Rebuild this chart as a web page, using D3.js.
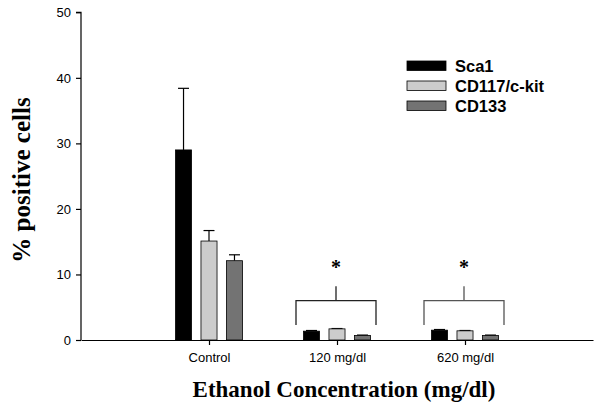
<!DOCTYPE html>
<html><head><meta charset="utf-8">
<script src="https://cdn.jsdelivr.net/npm/d3@7"></script>
<style>body{margin:0;background:#fff}svg{display:block}</style>
</head><body><svg id="c" width="600" height="408"></svg>
<script>
const categories = ["Control", "120 mg/dl", "620 mg/dl"];
const seriesNames = ["Sca1", "CD117/c-kit", "CD133"];
const sca1 = [29.0, 1.35, 1.5];
const cd117 = [15.1, 1.7, 1.4];
const cd133 = [12.1, 0.7, 0.7];
const sca1Err = [9.4, 0.1, 0.1];
const cd117Err = [1.6, 0.05, 0.05];
const cd133Err = [0.9, 0.05, 0.05];
const yTicks = [0, 10, 20, 30, 40, 50];
const sigGroups = ["120 mg/dl", "620 mg/dl"];
const colors = ["#000000", "#cccccc", "#737373"];

const svg = d3.select("#c");
const x = d3.scalePoint().domain(categories).range([81, 593]).padding(1);
const y = d3.scaleLinear().domain([0, 50]).range([340, 12.3]);
const xs = d3.scaleBand().domain(seriesNames).range([-33.5, 33.5]).paddingInner(0.37);

const vals = [sca1, cd117, cd133], errs = [sca1Err, cd117Err, cd133Err];

// axes
const ya = svg.append("g").attr("transform", "translate(81,0)")
  .call(d3.axisLeft(y).tickValues(yTicks).tickSize(5).tickPadding(5));
ya.select(".domain").attr("d", `M-5,${y(50)}H0V${y(0)}`);
ya.selectAll("text").attr("font-family", "Liberation Sans, Arial, sans-serif").attr("font-size", 13).attr("fill", "#000");
ya.selectAll("line,path").attr("stroke", "#000").attr("stroke-width", 1.2);

const xa = svg.append("g").attr("transform", "translate(0,340)")
  .call(d3.axisBottom(x).tickSize(5).tickPadding(8).tickSizeOuter(0));
xa.selectAll("text").attr("font-family", "Liberation Sans, Arial, sans-serif").attr("font-size", 13).attr("fill", "#000");
xa.selectAll("line,path").attr("stroke", "#000").attr("stroke-width", 1.2);

// bars
seriesNames.forEach((s, i) => {
  const g = svg.append("g");
  categories.forEach((c, j) => {
    const bx = x(c) + xs(s);
    const bw = xs.bandwidth();
    const cx = bx + bw / 2;
    g.append("line").attr("x1", cx).attr("x2", cx)
      .attr("y1", y(vals[i][j])).attr("y2", y(vals[i][j] + errs[i][j]))
      .attr("stroke", "#000").attr("stroke-width", 1.2);
    g.append("line").attr("x1", cx - 5.5).attr("x2", cx + 5.5)
      .attr("y1", y(vals[i][j] + errs[i][j])).attr("y2", y(vals[i][j] + errs[i][j]))
      .attr("stroke", "#000").attr("stroke-width", 1.2);
    g.append("rect").attr("x", bx).attr("width", bw)
      .attr("y", y(vals[i][j])).attr("height", y(0) - y(vals[i][j]))
      .attr("fill", colors[i]).attr("stroke", "#000").attr("stroke-width", 0.8);
  });
});

// significance brackets
const bracketColors = ["#222", "#555"];
sigGroups.forEach((c, k) => {
  const cx = x(c);
  const l = cx - 41, r = cx + 39;
  svg.append("path")
    .attr("d", `M${l},${y(2.3)}V${y(6)}H${r}V${y(2.3)}M${cx - 1},${y(6)}V${y(8.2)}`)
    .attr("fill", "none").attr("stroke", bracketColors[k]).attr("stroke-width", 1.3);
  svg.append("text").attr("x", cx - 1).attr("y", y(10.1))
    .attr("text-anchor", "middle").attr("font-family", "Liberation Serif, Times New Roman, serif")
    .attr("font-size", 20).attr("font-weight", "bold").text("*");
});

// legend
seriesNames.forEach((s, i) => {
  const ly = 61 + i * 20;
  svg.append("rect").attr("x", 407).attr("y", ly).attr("width", 39).attr("height", 9.5)
    .attr("fill", colors[i]).attr("stroke", "#000").attr("stroke-width", 0.8);
  svg.append("text").attr("x", 455).attr("y", ly + 10.5)
    .attr("font-family", "Liberation Sans, Arial, sans-serif").attr("font-weight", "bold")
    .attr("font-size", 16.5).attr("fill", "#000").text(s);
});

// axis titles
svg.append("text").attr("transform", "translate(30,180) rotate(-90)")
  .attr("text-anchor", "middle").attr("font-family", "Liberation Serif, Times New Roman, serif")
  .attr("font-weight", "bold").attr("font-size", 25).text("% positive cells");
svg.append("text").attr("x", 344).attr("y", 397)
  .attr("text-anchor", "middle").attr("font-family", "Liberation Serif, Times New Roman, serif")
  .attr("font-weight", "bold").attr("font-size", 23).text("Ethanol Concentration (mg/dl)");
</script></body></html>
